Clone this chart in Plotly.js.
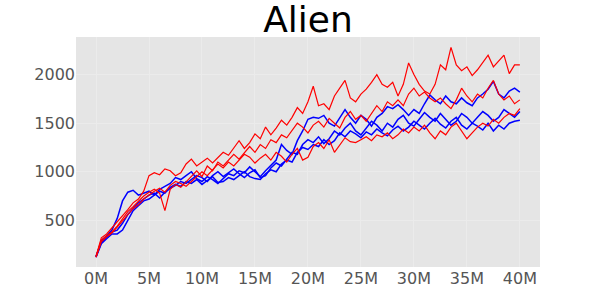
<!DOCTYPE html>
<html>
<head>
<meta charset="utf-8">
<script src="https://cdn.plot.ly/plotly-3.0.1.min.js"></script>
<style>html,body{margin:0;padding:0;background:#fff;}#chart{width:600px;height:300px;}</style>
</head>
<body>
<div id="chart"></div>
<script>
// Training steps (millions), sampled every 0.5M from 0M to 40M
const stepSize = 0.5;
const tickVals = [0, 5, 10, 15, 20, 25, 30, 35, 40];
const tickText = ["0M", "5M", "10M", "15M", "20M", "25M", "30M", "35M", "40M"];

// Blue runs
const blue1 = [125,290,340,400,520,700,790,810,760,780,800,760,820,850,880,940,920,960,1000,930,900,950,920,880,930,980,960,1010,990,1050,1000,950,1010,1060,1120,1280,1220,1180,1320,1420,1540,1560,1550,1580,1500,1470,1560,1640,1560,1500,1580,1540,1470,1560,1600,1670,1650,1690,1640,1580,1640,1600,1700,1790,1740,1700,1780,1720,1700,1760,1710,1680,1760,1800,1850,1930,1800,1760,1830,1860,1820];
const blue2 = [130,270,330,380,400,470,560,620,680,720,760,780,730,790,830,860,900,880,920,960,940,900,960,1000,950,990,1030,980,940,990,1020,940,960,1040,1090,1060,1130,1200,1180,1280,1330,1300,1360,1290,1340,1420,1380,1450,1500,1420,1380,1450,1520,1480,1420,1500,1460,1540,1580,1500,1470,1540,1610,1560,1520,1600,1540,1480,1520,1600,1560,1500,1560,1620,1580,1520,1560,1640,1600,1560,1620];
const blue3 = [120,260,310,360,360,400,500,600,650,700,720,760,800,780,840,870,850,900,880,920,870,910,950,890,900,940,920,960,1000,950,930,920,980,1020,1000,1080,1120,1100,1200,1250,1230,1280,1260,1330,1280,1320,1400,1360,1420,1390,1350,1410,1380,1440,1400,1370,1430,1470,1420,1460,1520,1480,1440,1500,1550,1490,1450,1520,1560,1480,1440,1500,1470,1430,1500,1420,1480,1440,1500,1520,1530];
// Red runs
const red1 = [130,320,360,420,480,540,610,680,720,800,960,990,970,1030,1010,960,990,1080,1130,1060,1100,1140,1090,1150,1200,1170,1250,1320,1240,1300,1390,1340,1460,1380,1450,1530,1480,1560,1660,1600,1720,1880,1680,1700,1640,1780,1860,1940,1760,1720,1800,1850,1920,2000,1900,1870,1920,1780,1900,2120,2000,1900,1830,1800,1900,2100,2050,2280,2100,2040,2080,1990,2050,2120,2200,2080,2140,2200,2010,2100,2100];
const red2 = [125,300,340,380,440,520,590,640,700,750,790,820,780,600,820,870,840,900,960,1010,950,1060,1010,1100,1060,1120,1180,1130,1200,1260,1200,1280,1240,1330,1300,1380,1350,1420,1500,1460,1400,1480,1520,1460,1550,1500,1450,1560,1620,1540,1580,1520,1600,1680,1620,1720,1680,1740,1680,1800,1860,1780,1820,1760,1720,1760,1700,1650,1740,1860,1780,1720,1800,1760,1860,1940,1800,1740,1780,1700,1740];
const red3 = [120,280,330,370,430,500,560,620,660,720,760,800,830,790,860,900,880,850,900,950,1000,960,1020,1080,1040,1100,1060,1120,1180,1150,1090,1140,1180,1120,1200,1160,1100,1180,1240,1120,1150,1260,1300,1240,1330,1200,1280,1350,1310,1300,1330,1360,1320,1380,1360,1400,1340,1380,1440,1400,1460,1420,1480,1400,1340,1420,1380,1460,1500,1420,1340,1400,1460,1500,1470,1540,1500,1560,1600,1580,1650];

const steps = blue1.map((_, i) => i * stepSize);

const series = [
  {y: blue1, color: "blue", w: 1.5}, {y: blue2, color: "blue", w: 1.5}, {y: blue3, color: "blue", w: 1.5},
  {y: red1, color: "red", w: 1.2}, {y: red2, color: "red", w: 1.2}, {y: red3, color: "red", w: 1.2}
];

const traces = series.map(s => ({
  x: steps, y: s.y, type: "scatter", mode: "lines",
  line: {color: s.color, width: s.w}, hoverinfo: "skip", showlegend: false
}));

const layout = {
  width: 600, height: 300,
  margin: {l: 76, r: 60, t: 37, b: 33, pad: 0},
  paper_bgcolor: "#ffffff", plot_bgcolor: "#e5e5e5",
  font: {family: "DejaVu Sans, sans-serif"},
  title: {text: "Alien", font: {size: 36, color: "#000", family: "DejaVu Sans, sans-serif"},
          x: 0.5, xref: "paper", xanchor: "center", y: 1, yref: "paper", yanchor: "bottom", pad: {b: 5}},
  xaxis: {range: [-1.89, 41.9], tickvals: tickVals, ticktext: tickText, showgrid: true,
          gridcolor: "#ebebeb", gridwidth: 1, zeroline: false, showline: false,
          ticks: "", tickfont: {size: 16, color: "#555"}},
  yaxis: {range: [20, 2387], tickvals: [500, 1000, 1500, 2000], showgrid: true,
          gridcolor: "#ebebeb", gridwidth: 1, zeroline: false, showline: false,
          ticks: "", tickfont: {size: 16, color: "#555"}}
};

Plotly.newPlot("chart", traces, layout, {staticPlot: true, displayModeBar: false});
</script>
</body>
</html>
